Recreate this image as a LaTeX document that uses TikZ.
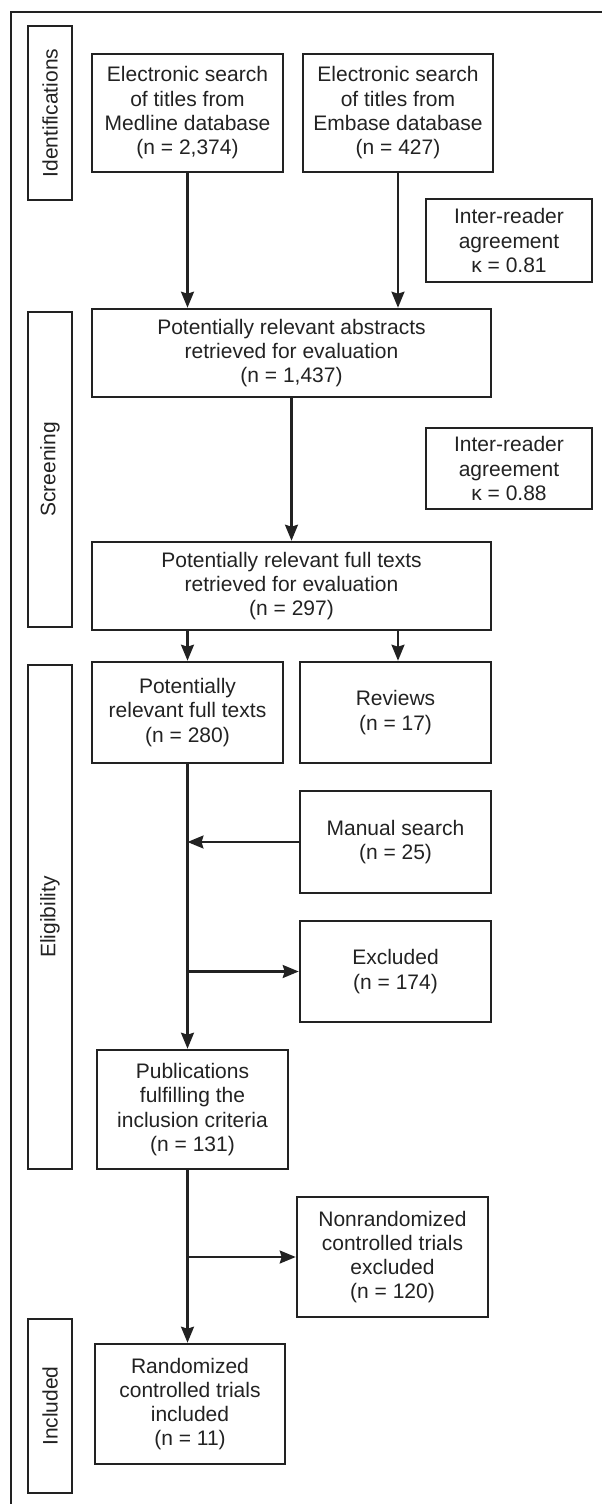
\documentclass[tikz,border=0pt]{standalone}
\usepackage{fontspec}
\setmainfont{Liberation Sans}
\usetikzlibrary{arrows.meta}
\def\SideW{44}
\def\BoxW{191}
\def\WideW{399}
\def\KapW{166}
\definecolor{ink}{HTML}{222222}

\begin{document}
\begin{tikzpicture}[x=1pt,y=-1pt,
  every node/.style={font=\fontsize{21pt}{24.3pt}\selectfont, text=ink, align=center},
  box/.style={draw=ink, line width=2.6pt, inner sep=0pt},
  side/.style={box, minimum width=\SideW, rotate=90},
  arr/.style={draw=ink, line width=2.2pt, -{Stealth[length=16pt,width=13pt,inset=2pt]}}]
  \useasboundingbox (0,0) rectangle (602,1504);
  % frame
  \coordinate (F0) at (11,1504);
  \coordinate (F1) at (11,12);
  \coordinate (F2) at (602,12);
  \draw[ink, line width=1.3pt] (F0) -- (F1) -- (F2);
  % phases
  \node[side, minimum width=174, minimum height=\SideW] (ident) at (50,113) {Identifications};
  \node[side, minimum width=315, minimum height=\SideW] (screen) at (50,469.5) {Screening};
  \node[side, minimum width=504, minimum height=\SideW] (elig) at (50,917) {Eligibility};
  \node[side, minimum width=174, minimum height=\SideW] (incl) at (50,1406) {Included};
  % identification
  \node[box, minimum width=\BoxW, minimum height=118] (medline) at (187.5,113)
    {Electronic search\\of titles from\\Medline database\\(n = 2,374)};
  \node[box, minimum width=190, minimum height=118] (embase) at (398,113)
    {Electronic search\\of titles from\\Embase database\\(n = 427)};
  \node[box, minimum width=\KapW, minimum height=83] (kappa1) at (509,240.5)
    {Inter-reader\\agreement\\κ = 0.81};
  % screening
  \node[box, minimum width=\WideW, minimum height=88] (abstr) at (291.5,353)
    {Potentially relevant abstracts\\retrieved for evaluation\\(n = 1,437)};
  \node[box, minimum width=\KapW, minimum height=81] (kappa2) at (509,468.5)
    {Inter-reader\\agreement\\κ = 0.88};
  \node[box, minimum width=\WideW, minimum height=88] (full) at (291.5,586)
    {Potentially relevant full texts\\retrieved for evaluation\\(n = 297)};
  % eligibility
  \node[box, minimum width=\BoxW, minimum height=101] (rel) at (187.5,712.5)
    {Potentially\\relevant full texts\\(n = 280)};
  \node[box, minimum width=\BoxW, minimum height=101] (reviews) at (395.5,712.5)
    {Reviews\\(n = 17)};
  \node[box, minimum width=\BoxW, minimum height=102] (manual) at (395.5,842)
    {Manual search\\(n = 25)};
  \node[box, minimum width=\BoxW, minimum height=101] (excl) at (395.5,971.5)
    {Excluded\\(n = 174)};
  \node[box, minimum width=\BoxW, minimum height=119] (publ) at (192.5,1109.5)
    {Publications\\fulfilling the\\inclusion criteria\\(n = 131)};
  % included
  \node[box, minimum width=\BoxW, minimum height=120] (nonrand) at (392.5,1257)
    {Nonrandomized\\controlled trials\\excluded\\(n = 120)};
  \node[box, minimum width=190, minimum height=120] (rand) at (190,1404)
    {Randomized\\controlled trials\\included\\(n = 11)};
  % arrows
  \draw[arr] (medline.south) -- (medline.south |- abstr.north);
  \draw[arr] (embase.south) -- (embase.south |- abstr.north);
  \draw[arr] (abstr.south) -- (full.north);
  \draw[arr] (rel.north |- full.south) -- (rel.north);
  \draw[arr] (embase.south |- full.south) -- (embase.south |- reviews.north);
  \draw[arr] (rel.south) -- (rel.south |- publ.north);
  \draw[arr] (manual.west) -- (rel.south |- manual.west);
  \draw[arr] (rel.south |- excl.west) -- (excl.west);
  \draw[arr] (rel.south |- publ.south) -- (rel.south |- rand.north);
  \draw[arr] (rel.south |- nonrand.west) -- (nonrand.west);
\end{tikzpicture}
\end{document}
